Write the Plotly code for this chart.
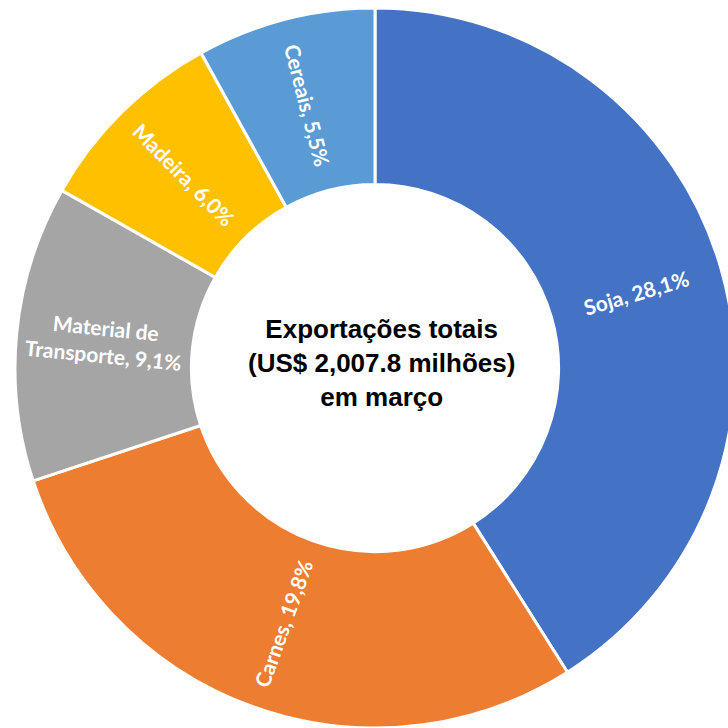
import numpy as np
import plotly.graph_objects as go

categories = ["Soja", "Carnes", "Material de<br>Transporte", "Madeira", "Cereais"]
shares = [28.1, 19.8, 9.1, 6.0, 5.5]
colors = ["#4472C4", "#ED7D31", "#A5A5A5", "#FFC000", "#5B9BD5"]
center_lines = ["Exportações totais", "(US$ 2,007.8 milhões)", "em março"]

# figure is a bit wider than the window so the ring can run off the right edge
W, H = 744, 728
HOLE = 0.51
DOM_X = [15 / W, 735 / W]
DOM_Y = [0.0, 1 - 8 / H]

texts = [f"{c}, {str(v).replace('.', ',')}%" for c, v in zip(categories, shares)]

fig = go.Figure(go.Pie(
    labels=categories,
    values=shares,
    textinfo="none",
    hoverinfo="label+value",
    sort=False,
    direction="clockwise",
    rotation=0,
    hole=HOLE,
    marker=dict(colors=colors, line=dict(color="white", width=3)),
    domain=dict(x=DOM_X, y=DOM_Y),
    showlegend=False,
))

# slice labels placed at mid-ring, oriented radially (derived from the shares)
vals = np.array(shares, dtype=float)
mid_deg = (np.cumsum(vals) - vals / 2) / vals.sum() * 360.0
cx = (DOM_X[0] + DOM_X[1]) / 2
cy = (DOM_Y[0] + DOM_Y[1]) / 2
r_px = min((DOM_X[1] - DOM_X[0]) * W, (DOM_Y[1] - DOM_Y[0]) * H) / 2
r_lab = (1 + HOLE) / 2 * r_px
for t, th in zip(texts, mid_deg):
    rad = np.deg2rad(th)
    ang = th - 90 if th < 180 else th - 270
    fig.add_annotation(text=t, x=cx + r_lab * np.sin(rad) / W, y=cy + r_lab * np.cos(rad) / H,
                       xref="paper", yref="paper", showarrow=False, textangle=ang,
                       xanchor="center", yanchor="middle",
                       font=dict(family="Lato", size=21, color="white", weight="bold"))

fig.add_annotation(text="<b>" + "<br>".join(center_lines) + "</b>", x=381 / W, y=1 - 363 / H,
                   xref="paper", yref="paper", showarrow=False,
                   xanchor="center", yanchor="middle",
                   font=dict(family="Liberation Sans", size=26, color="black"))

fig.update_layout(width=W, height=H, margin=dict(l=0, r=0, t=0, b=0),
                  paper_bgcolor="white", plot_bgcolor="white")
fig.write_html("out.html",
               config={"displayModeBar": False},
               post_script="document.body.style.margin='0';"
                           "document.documentElement.style.overflow='hidden';"
                           "document.body.style.overflow='hidden';")
